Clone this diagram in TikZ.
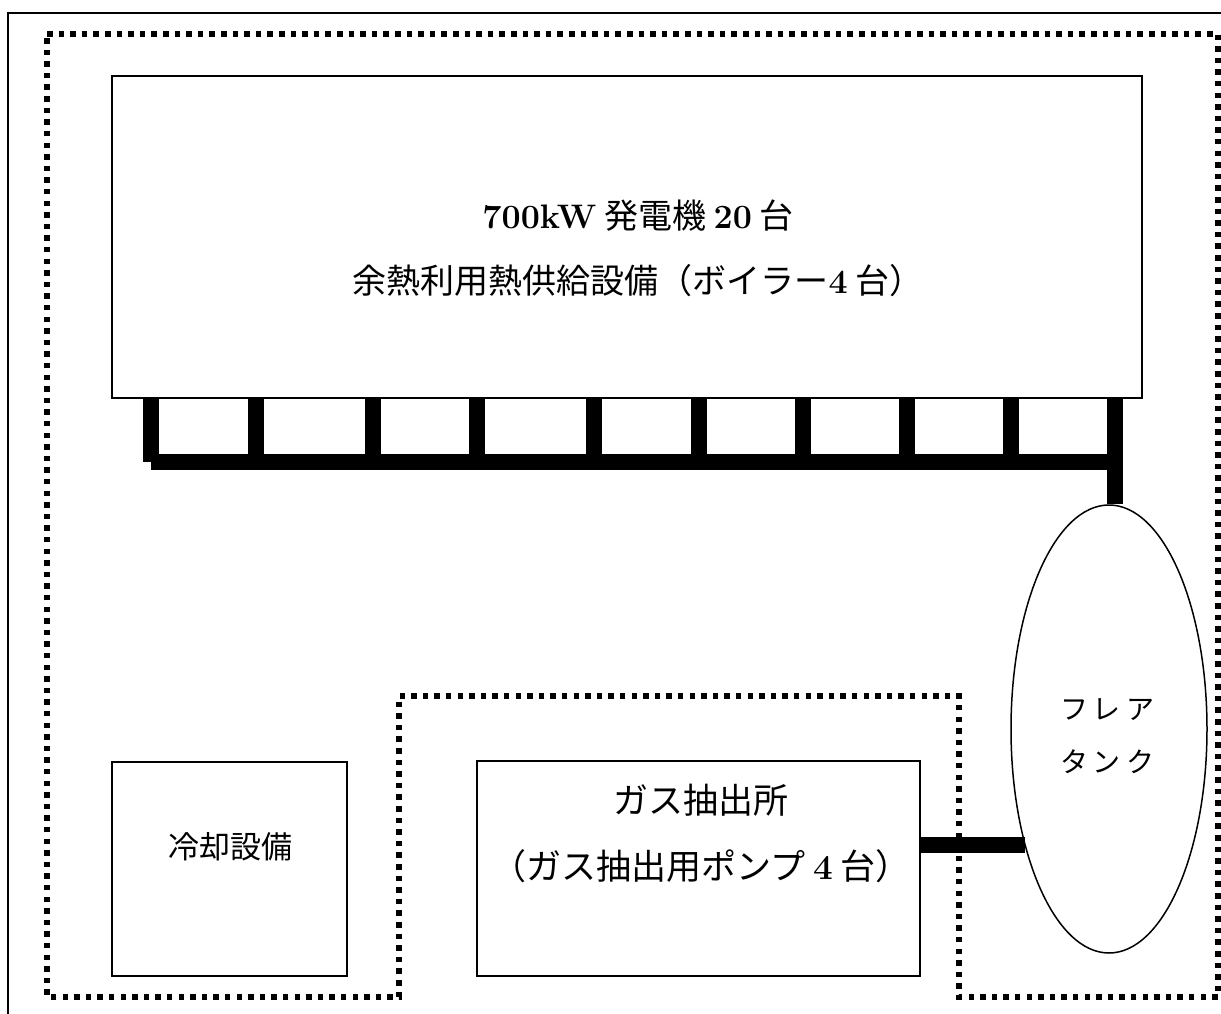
\documentclass[tikz,border=0pt]{standalone}
\usepackage{fontspec}
\newfontfamily\cjk{Noto Sans CJK JP}
\usetikzlibrary{shapes.geometric}
\newcommand\latb[1]{{\rmfamily\bfseries #1}}
\tikzset{
  box/.style={draw, line width=1.5pt, inner sep=0pt},
  pipe/.style={line width=16pt, line cap=butt},
  zone/.style={line width=5.5pt, dash pattern=on 5.5pt off 6.1pt, line join=miter},
  jp/.style={font=\cjk\fontsize{31}{65}\selectfont, align=center, inner sep=0pt},
}
\begin{document}
\begin{tikzpicture}[x=1pt,y=-1pt]
\useasboundingbox (0,0) rectangle (1221,1014);
% outer frame
\draw[line width=1.5pt] (8,1014) -- (8,13) -- (1221,13);
% dotted zone
\draw[zone] (47,34) -- (1218,34) -- (1218,997) -- (959,997) -- (959,696) -- (399,696) -- (399,997) -- (47,997) -- cycle;
% generator block
\node[box, minimum width=1030pt, minimum height=322pt] (gen) at (627,237) {};
\node[jp, font=\cjk\fontsize{34}{65}\selectfont] (gentext) at (638,248) {\latb{700kW} 発電機 \latb{20} 台\\余熱利用熱供給設備（ボイラー\latb{4} 台）};
% cooling
\node[box, minimum width=235pt, minimum height=214pt] (cool) at (229.5,869) {};
\node[jp] (cooltext) at (230,847) {冷却設備};
% gas extraction
\node[box, minimum width=443pt, minimum height=215pt] (gas) at (698.5,868.5) {};
\node[jp, font=\cjk\fontsize{35}{66}\selectfont] (gastext) at (701,833) {ガス抽出所\\（ガス抽出用ポンプ \latb{4} 台）};
% flare tank
\node[draw, line width=1.5pt, ellipse, minimum width=196pt, minimum height=448pt, inner sep=0pt] (flare) at (1109,729) {};
\node[jp, font=\cjk\fontsize{28}{53}\selectfont] (flaretext) at (1107,736)
      {フ\hspace{5pt}レ\hspace{5pt}ア\\タ\hspace{5pt}ン\hspace{5pt}ク};
% bus coordinates
\foreach \i/\x in {1/151,2/256,3/372.5,4/477,5/594,6/698.5,7/803,8/907,9/1011,10/1115}
  \coordinate (b\i) at (\x,462);
% pipes
\foreach \i in {1,...,9}
  \draw[pipe] (b\i |- gen.south) -- (b\i);
\draw[pipe] (b1) -- (b10);
\draw[pipe] (b10 |- gen.south) -- (b10 |- flare.north);
\draw[pipe] (gas.east |- flare.234.87) -- (flare.234.87);
\end{tikzpicture}
\end{document}
